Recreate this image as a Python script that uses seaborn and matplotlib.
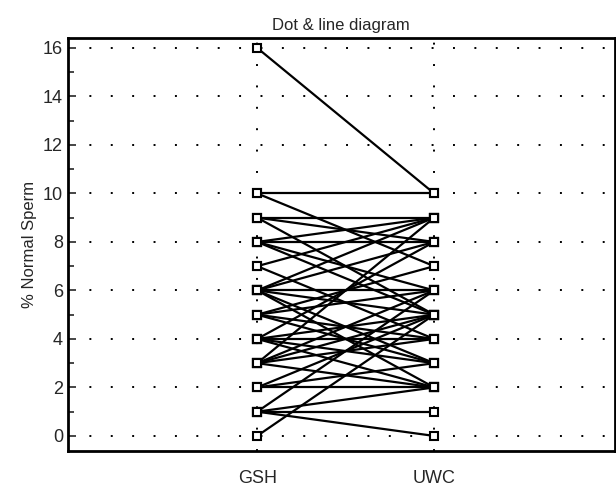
import pandas as pd
import matplotlib
matplotlib.use('Agg')
import matplotlib.pyplot as plt
import seaborn as sns
from matplotlib.ticker import MultipleLocator

groups = ['GSH', 'UWC']
gsh = [16, 10, 10, 9, 9, 9, 8, 8, 8, 8, 7, 7, 6, 6, 6, 6, 6, 6, 5, 5, 5, 5, 4, 4, 4, 4, 4, 3, 3, 3, 3, 3, 2, 2, 2, 1, 1, 1, 1, 0]
uwc = [10, 10, 7, 9, 8, 5, 9, 8, 6, 5, 9, 4, 9, 8, 6, 5, 3, 2, 7, 6, 4, 3, 8, 5, 4, 3, 2, 9, 6, 5, 4, 2, 5, 3, 2, 6, 2, 1, 0, 5]

rows = []
for i, (a, b) in enumerate(zip(gsh, uwc)):
    rows.append({'pair': i, 'pos': 0, 'value': a})
    rows.append({'pair': i, 'pos': 1, 'value': b})
df = pd.DataFrame(rows)

sns.set_style('white')
plt.rcParams['font.family'] = ['Liberation Sans', 'DejaVu Sans']

fig = plt.figure(figsize=(6.16, 4.87), dpi=100)
ax = fig.add_axes([0.110, 0.074, 0.888, 0.848])

sns.lineplot(data=df, x='pos', y='value', units='pair', estimator=None,
             color='black', linewidth=1.6, marker='s', markersize=6,
             markerfacecolor='white', markeredgecolor='black',
             markeredgewidth=1.5, legend=False, ax=ax)

ax.set_xlim(-1.07, 2.02)
ax.set_ylim(-0.62, 16.41)
ax.set_xticks([0, 1])
ax.set_xticklabels(groups)
ax.yaxis.set_major_locator(MultipleLocator(2))
ax.yaxis.set_minor_locator(MultipleLocator(1))
ax.tick_params(axis='y', which='major', direction='in', length=6, width=1.2, left=True, labelsize=13)
ax.tick_params(axis='y', which='minor', direction='in', length=4, width=1.2, left=True)
ax.tick_params(axis='x', length=0, labelsize=13, pad=14)
ax.grid(True, which='major', linestyle=(0, (1, 10)), color='black', linewidth=1.4)
ax.set_axisbelow(True)

for s in ax.spines.values():
    s.set_linewidth(2)
    s.set_color('black')

ax.set_xlabel('')
ax.set_ylabel('% Normal Sperm', fontsize=12)
ax.set_title('Dot & line diagram', fontsize=12, pad=6)

fig.savefig('out.png', dpi=100)
